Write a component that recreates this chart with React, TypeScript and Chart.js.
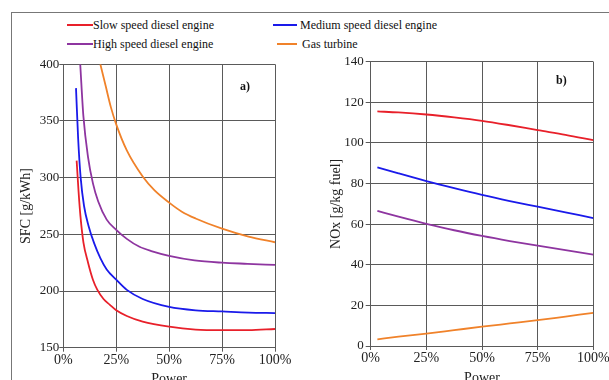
import { useEffect, useRef } from 'react';
import { Chart, registerables } from 'chart.js';
Chart.register(...registerables);

const FONT = '"Liberation Serif", "Times New Roman", serif';

// Series names and colours
const seriesNames = ['Slow speed diesel engine', 'Medium speed diesel engine', 'High speed diesel engine', 'Gas turbine'];
const seriesColors = ['#e8202a', '#1a1aea', '#8e35a0', '#f0822a'];

// a) SFC [g/kWh] vs power (%)
const sfcSlowX = [6.3, 7.2, 8.1, 9.5, 11.7, 14, 16.1, 19, 21.9, 25, 30, 37.5, 50, 62.5, 75, 87.5, 100];
const sfcSlowY = [315, 288, 266, 243, 225, 210, 201, 193, 188, 183, 178, 173, 168.5, 166, 165.5, 165.5, 166.5];
const sfcMediumX = [6, 7, 8.2, 9.8, 12, 14.6, 17.5, 20.5, 25, 30, 37.5, 50, 62.5, 75, 87.5, 100];
const sfcMediumY = [379, 335, 300, 275, 257, 242, 229, 219, 210, 201, 193, 186, 183, 182, 181, 180.5];
const sfcHighX = [8, 9.5, 11.7, 14, 16.5, 20.5, 25, 30, 36, 42, 50, 62, 75, 87, 100];
const sfcHighY = [400, 354, 318, 295, 279, 263, 254, 246, 239, 235, 231, 227, 225, 224, 223];
const sfcGasX = [17.5, 20, 22.5, 25, 30, 37.5, 43, 50, 56, 62.5, 75, 87.5, 100];
const sfcGasY = [400, 381, 362, 347, 324, 301, 289, 278, 270, 264, 255, 248, 243];

// b) NOx [g/kg fuel] vs power (%)
const noxX = [3, 12.5, 25, 37.5, 50, 62.5, 75, 87.5, 100];
const noxSlow = [115.5, 115, 114, 112.6, 110.9, 108.7, 106.3, 104, 101.4];
const noxMedium = [88, 85, 81.2, 77.7, 74.4, 71.4, 68.6, 65.8, 63];
const noxHigh = [66.5, 63.7, 60.2, 57, 54.2, 51.7, 49.4, 47.2, 45];
const noxGas = [3.3, 4.6, 6.1, 7.8, 9.5, 11.1, 12.7, 14.5, 16.3];

// Axis labels
const xTitle = 'Power';
const sfcTitle = 'SFC [g/kWh]';
const noxTitle = 'NOx [g/kg fuel]';

const pts = (xs: number[], ys: number[]) => xs.map((x, i) => ({ x, y: ys[i] }));

const GRID = '#5a5a5a';
const TXT = '#222';

function makeOptions(o: {
  yMin: number; yMax: number; yStep: number; yTitle: string;
  yWidth: number; xHeight: number; padTop: number; padRight: number;
  yTitlePad: number; xTitlePad: number; yTickLen: number; yTickPad: number;
}): any {
  return {
    responsive: false,
    animation: false,
    layout: { padding: { top: o.padTop, right: o.padRight, left: 0, bottom: 0 } },
    plugins: { legend: { display: false }, tooltip: { enabled: false } },
    elements: { point: { radius: 0 }, line: { borderWidth: 1.8 } },
    scales: {
      x: {
        type: 'linear', min: 0, max: 100,
        afterFit: (s: any) => { s.height = o.xHeight; },
        ticks: { stepSize: 25, padding: 0, color: TXT, font: { family: FONT, size: 14 }, callback: (v: any) => v + '%', maxRotation: 0 },
        grid: { color: GRID, lineWidth: 1, tickLength: 4 },
        border: { color: GRID, width: 1 },
        title: { display: true, text: xTitle, color: TXT, font: { family: FONT, size: 14 }, padding: { top: 0, bottom: o.xTitlePad } },
      },
      y: {
        type: 'linear', min: o.yMin, max: o.yMax,
        afterFit: (s: any) => { s.width = o.yWidth; },
        ticks: { stepSize: o.yStep, padding: o.yTickPad, color: TXT, font: { family: FONT, size: 13 } },
        grid: { color: GRID, lineWidth: 1, tickLength: o.yTickLen },
        border: { color: GRID, width: 1 },
        title: { display: true, text: o.yTitle, color: TXT, font: { family: FONT, size: 14 }, padding: { top: o.yTitlePad, bottom: 0 } },
      },
    },
  };
}

export default function App() {
  const leftRef = useRef<HTMLCanvasElement>(null);
  const rightRef = useRef<HTMLCanvasElement>(null);

  useEffect(() => {
    const ds = (data: any[], i: number) => ({
      label: seriesNames[i], data, borderColor: seriesColors[i], backgroundColor: seriesColors[i],
      fill: false, cubicInterpolationMode: 'monotone', pointRadius: 0,
    });
    const left = new Chart(leftRef.current as HTMLCanvasElement, {
      type: 'line',
      data: {
        datasets: [
          ds(pts(sfcSlowX, sfcSlowY), 0),
          ds(pts(sfcMediumX, sfcMediumY), 1),
          ds(pts(sfcHighX, sfcHighY), 2),
          ds(pts(sfcGasX, sfcGasY), 3),
        ],
      },
      options: makeOptions({
        yMin: 150, yMax: 400, yStep: 50, yTitle: sfcTitle,
        yWidth: 63.3, xHeight: 47.3, padTop: 14.3, padRight: 25,
        yTitlePad: 18.3, xTitlePad: 7.6, yTickLen: 4, yTickPad: 0,
      }),
    });
    const right = new Chart(rightRef.current as HTMLCanvasElement, {
      type: 'line',
      data: {
        datasets: [
          ds(pts(noxX, noxSlow), 0),
          ds(pts(noxX, noxMedium), 1),
          ds(pts(noxX, noxHigh), 2),
          ds(pts(noxX, noxGas), 3),
        ],
      },
      options: makeOptions({
        yMin: 0, yMax: 140, yStep: 20, yTitle: noxTitle,
        yWidth: 70.7, xHeight: 49, padTop: 11.7, padRight: 36.7,
        yTitlePad: 28.3, xTitlePad: 8.6, yTickLen: 5, yTickPad: 2,
      }),
    });
    return () => { left.destroy(); right.destroy(); };
  }, []);

  const legendItem = (i: number, left: number, top: number, lineW: number, gap: number) => (
    <div key={i} style={{ position: 'absolute', left, top, height: 14, display: 'flex', alignItems: 'center', whiteSpace: 'nowrap' }}>
      <span style={{ display: 'inline-block', width: lineW, height: 2, background: seriesColors[i], marginRight: gap }} />
      <span style={{ fontSize: 12, lineHeight: '14px', color: '#111' }}>{seriesNames[i]}</span>
    </div>
  );

  return (
    <div style={{ position: 'fixed', left: 0, top: 0, width: 609, height: 380, overflow: 'hidden', background: '#fff', fontFamily: FONT }}>
      <div style={{ position: 'absolute', left: 11, top: 12, width: 700, height: 500, border: '1px solid #777' }} />
      {legendItem(0, 67, 18, 26, 0)}
      {legendItem(1, 273, 18, 24, 3)}
      {legendItem(2, 67, 36.5, 26, 0)}
      {legendItem(3, 277, 36.5, 20, 5)}
      <canvas ref={leftRef} width={300} height={345} style={{ position: 'absolute', left: 0, top: 50, display: 'block' }} />
      <canvas ref={rightRef} width={330} height={345} style={{ position: 'absolute', left: 300, top: 50, display: 'block' }} />
      <span style={{ position: 'absolute', left: 240, top: 79, fontSize: 12, fontWeight: 'bold', lineHeight: '14px', color: '#111' }}>a)</span>
      <span style={{ position: 'absolute', left: 556, top: 73, fontSize: 12, fontWeight: 'bold', lineHeight: '14px', color: '#111' }}>b)</span>
    </div>
  );
}
